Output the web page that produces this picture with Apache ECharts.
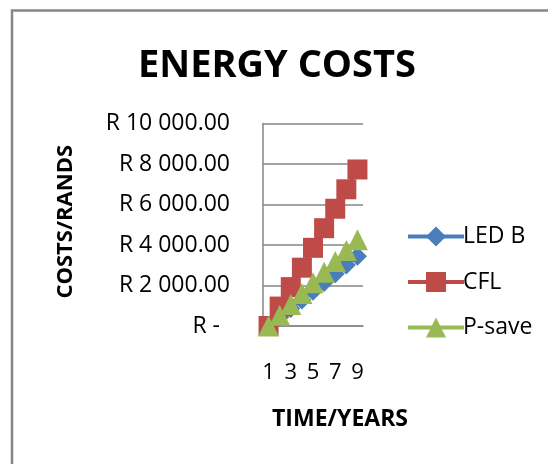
<!DOCTYPE html>
<html>
<head>
<meta charset="utf-8">
<script src="https://cdn.jsdelivr.net/npm/echarts@6/dist/echarts.min.js"></script>
<style>
html,body{margin:0;padding:0;background:#fff;}
#chart{width:548px;height:464px;}
</style>
</head>
<body>
<div id="chart"></div>
<script>
var years = ['1','2','3','4','5','6','7','8','9'];
var ledB = [0, 430, 860, 1290, 1720, 2150, 2580, 3010, 3440];
var cfl = [0, 960, 1920, 2880, 3860, 4830, 5790, 6750, 7730];
var pSave = [0, 530, 1060, 1600, 2130, 2660, 3190, 3730, 4260];
var seriesNames = ['LED B', 'CFL', 'P-save'];

var FONT = 'Open Sans';
function fmtRand(v) {
  if (v === 0) return '{z|R -}';
  var s = String(Math.round(v)).replace(/\B(?=(\d{3})+(?!\d))/g, ' ');
  return 'R ' + s + '.00';
}

var chart = echarts.init(document.getElementById('chart'));
chart.setOption({
  animation: false,
  backgroundColor: '#ffffff',
  textStyle: { fontFamily: FONT },
  graphic: [{
    type: 'rect',
    shape: { x: 12, y: 10.5, width: 700, height: 700 },
    style: { fill: 'none', stroke: '#868686', lineWidth: 2.5 },
    silent: true
  }],
  title: {
    text: 'ENERGY COSTS',
    left: 272,
    textAlign: 'center',
    top: 42,
    textStyle: { fontFamily: FONT, fontWeight: 'bold', fontSize: 38, color: '#000' }
  },
  legend: {
    orient: 'vertical',
    left: 401,
    top: 220,
    itemWidth: 56,
    itemHeight: 25,
    itemGap: 22.5,
    data: seriesNames,
    lineStyle: { width: 4 },
    textStyle: { fontFamily: FONT, fontSize: 23, color: '#000', padding: [0, 0, 0, -6] }
  },
  grid: { left: 263, right: 185, top: 123.5, bottom: 138 },
  xAxis: {
    type: 'category',
    data: years,
    boundaryGap: true,
    name: 'TIME/YEARS',
    nameLocation: 'middle',
    nameGap: 82,
    nameTextStyle: { fontFamily: FONT, fontWeight: 'bold', fontSize: 23, color: '#000', padding: [0, 0, 0, 54] },
    axisLine: { show: true, lineStyle: { color: '#868686', width: 1.5 } },
    axisTick: { show: false },
    axisLabel: { interval: 1, margin: 36, fontFamily: FONT, fontSize: 22, color: '#000' }
  },
  yAxis: {
    type: 'value',
    min: 0,
    max: 10000,
    interval: 2000,
    name: 'COSTS/RANDS',
    nameLocation: 'middle',
    nameRotate: 90,
    nameGap: 186,
    nameTextStyle: { fontFamily: FONT, fontWeight: 'bold', fontSize: 22, color: '#000', padding: [0, 0, 0, 6] },
    axisLine: { show: true, lineStyle: { color: '#868686', width: 1.5 } },
    axisTick: { show: false },
    splitLine: { show: true, lineStyle: { color: '#868686', width: 1.5 } },
    axisLabel: {
      margin: 33,
      fontFamily: FONT, fontSize: 23, color: '#000',
      formatter: fmtRand,
      rich: { z: { fontFamily: FONT, fontSize: 23, color: '#000', padding: [0, 10, 0, 0] } }
    }
  },
  series: [
    { name: seriesNames[0], type: 'line', data: ledB, symbol: 'diamond', symbolSize: 19, showAllSymbol: true,
      itemStyle: { color: '#4A7EBB' }, lineStyle: { color: '#4A7EBB', width: 3.5 } },
    { name: seriesNames[1], type: 'line', data: cfl, symbol: 'rect', symbolSize: 20, showAllSymbol: true,
      itemStyle: { color: '#BE4B48' }, lineStyle: { color: '#BE4B48', width: 3.5 } },
    { name: seriesNames[2], type: 'line', data: pSave, symbol: 'triangle', symbolSize: 21, showAllSymbol: true,
      itemStyle: { color: '#98B954' }, lineStyle: { color: '#98B954', width: 3.5 } }
  ]
});
</script>
</body>
</html>
